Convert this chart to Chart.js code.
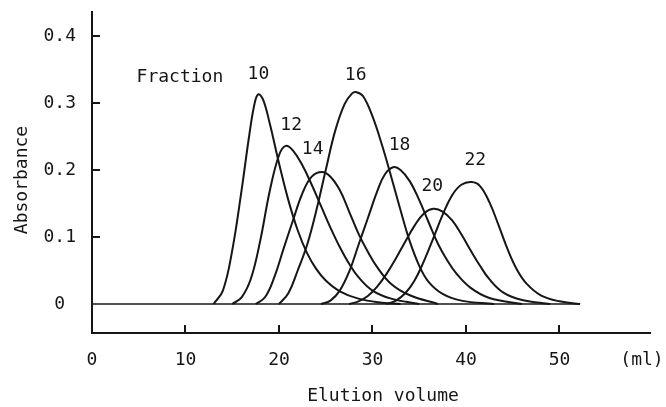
<!DOCTYPE html>
<html>
<head>
<meta charset="utf-8">
<script src="https://cdn.jsdelivr.net/npm/chart.js@4.4.1/dist/chart.umd.min.js"></script>
<style>
html, body { margin: 0; padding: 0; background: #fff; }
</style>
</head>
<body>
<canvas id="elutionChart" width="666" height="407"></canvas>
<script>
// Elution profiles of gel fractions (volume in ml, absorbance)
const volume10 = [13, 14, 15, 16, 16.8, 17.4, 17.8, 18.3, 19, 20, 21, 22, 23, 24, 25, 26.5, 28.5, 31, 33];
const abs10    = [0, 0.02, 0.08, 0.17, 0.25, 0.3, 0.313, 0.305, 0.27, 0.21, 0.155, 0.11, 0.076, 0.052, 0.035, 0.019, 0.008, 0.002, 0];

const volume12 = [15, 16, 17, 18, 19, 20, 20.7, 21.5, 22.5, 23.5, 24.5, 25.5, 26.5, 27.5, 28.5, 30, 32, 35];
const abs12    = [0, 0.01, 0.038, 0.095, 0.168, 0.222, 0.236, 0.229, 0.207, 0.178, 0.146, 0.114, 0.085, 0.06, 0.04, 0.02, 0.008, 0];

const volume14 = [17.5, 18.5, 19.5, 20.5, 21.5, 22.5, 23.5, 24.6, 25.5, 26.5, 27.5, 28.5, 29.5, 30.5, 32, 34, 37];
const abs14    = [0, 0.01, 0.04, 0.083, 0.125, 0.165, 0.19, 0.197, 0.19, 0.17, 0.138, 0.105, 0.078, 0.055, 0.03, 0.013, 0];

const volume16 = [20, 21, 22, 23, 24, 25, 26, 27, 27.8, 28.3, 29, 30, 31, 32, 33, 34, 35, 36, 37.5, 39.5, 43];
const abs16    = [0, 0.016, 0.05, 0.088, 0.14, 0.2, 0.258, 0.298, 0.314, 0.316, 0.31, 0.28, 0.238, 0.19, 0.14, 0.093, 0.057, 0.033, 0.015, 0.005, 0];

const volume18 = [24.5, 25.5, 26.5, 27.5, 28.5, 29.5, 30.5, 31.3, 32.2, 33, 34, 35, 36, 37, 38, 39, 40.5, 42.5, 46];
const abs18    = [0, 0.005, 0.02, 0.048, 0.088, 0.128, 0.168, 0.193, 0.204, 0.2, 0.183, 0.155, 0.122, 0.09, 0.065, 0.045, 0.024, 0.009, 0];

const volume20 = [27.5, 28.5, 29.5, 30.5, 31.5, 32.5, 33.5, 34.5, 35.5, 36.5, 37.5, 38.5, 39.5, 40.5, 41.5, 42.5, 44, 46, 49];
const abs20    = [0, 0.004, 0.012, 0.026, 0.045, 0.068, 0.093, 0.117, 0.135, 0.142, 0.138, 0.125, 0.104, 0.08, 0.057, 0.037, 0.017, 0.006, 0];

const volume22 = [31.5, 32.5, 33.5, 34.5, 35.5, 36.5, 37.5, 38.5, 39.5, 40.6, 41.5, 42.5, 43.5, 44.5, 45.5, 46.5, 48, 50, 52.2];
const abs22    = [0, 0.005, 0.016, 0.035, 0.064, 0.098, 0.133, 0.162, 0.178, 0.182, 0.176, 0.152, 0.117, 0.08, 0.05, 0.03, 0.013, 0.004, 0];

const baselineVolume = [0, 52.2];
const baselineAbs    = [0, 0];

const fractions = ['10', '12', '14', '16', '18', '20', '22'];
const xTicks = [0, 10, 20, 30, 40, 50];
const yTicks = [0, 0.1, 0.2, 0.3, 0.4];

// where each fraction number sits, in data units
const labelVolume = [17.8, 21.3, 23.6, 28.2, 32.9, 36.4, 41.0];
const labelAbs    = [0.343, 0.267, 0.231, 0.342, 0.237, 0.175, 0.215];

const ink = '#161616';
const fontFamily = '"DejaVu Sans Mono", monospace';

function toPoints(xs, ys) {
    return xs.map((v, i) => ({ x: v, y: ys[i] }));
}

const curves = [
    [volume10, abs10], [volume12, abs12], [volume14, abs14], [volume16, abs16],
    [volume18, abs18], [volume20, abs20], [volume22, abs22]
];

const datasets = curves.map((c, i) => ({
    label: 'Fraction ' + fractions[i],
    data: toPoints(c[0], c[1]),
    borderColor: ink,
    borderWidth: 2,
    pointRadius: 0,
    tension: 0.4,
    fill: false
}));
datasets.push({
    label: 'baseline',
    data: toPoints(baselineVolume, baselineAbs),
    borderColor: ink,
    borderWidth: 1.7,
    pointRadius: 0,
    fill: false
});

// inward tick marks, axis captions and fraction numbers
const axisDecor = {
    id: 'axisDecor',
    afterDraw(chart) {
        const { ctx, scales: { x, y } } = chart;
        ctx.save();
        ctx.strokeStyle = ink;
        ctx.lineWidth = 2;
        xTicks.forEach(v => {
            if (v === 0) return;
            const px = Math.round(x.getPixelForValue(v));
            ctx.beginPath();
            ctx.moveTo(px, y.bottom);
            ctx.lineTo(px, y.bottom - 8);
            ctx.stroke();
        });
        yTicks.forEach(v => {
            if (v === 0) return;
            const py = Math.round(y.getPixelForValue(v));
            ctx.beginPath();
            ctx.moveTo(x.left, py);
            ctx.lineTo(x.left + 8, py);
            ctx.stroke();
        });

        ctx.fillStyle = ink;
        ctx.font = '18px ' + fontFamily;
        ctx.textAlign = 'center';
        ctx.textBaseline = 'middle';
        ctx.fillText('(ml)', x.right - 8, 360);
        ctx.fillText('Elution volume', 383, 396);
        ctx.fillText('Fraction', x.getPixelForValue(9.4), y.getPixelForValue(0.339));
        fractions.forEach((f, i) => {
            ctx.fillText(f, x.getPixelForValue(labelVolume[i]), y.getPixelForValue(labelAbs[i]));
        });

        ctx.translate(22, 180);
        ctx.rotate(-Math.PI / 2);
        ctx.fillText('Absorbance', 0, 0);
        ctx.restore();
    }
};

const ctx = document.getElementById('elutionChart').getContext('2d');
new Chart(ctx, {
    type: 'line',
    data: { datasets: datasets },
    options: {
        responsive: false,
        animation: false,
        layout: { padding: { top: 12, right: 16, left: 0, bottom: 0 } },
        plugins: {
            legend: { display: false },
            tooltip: { enabled: false }
        },
        scales: {
            x: {
                type: 'linear',
                min: 0,
                max: 59.68,
                afterFit: s => {
                    s.height = 74;
                    s.paddingLeft = 0;
                    s.paddingRight = 0;
                },
                afterBuildTicks: s => { s.ticks = xTicks.map(v => ({ value: v })); },
                grid: { display: false, drawTicks: false },
                border: { display: true, color: ink, width: 2 },
                ticks: {
                    color: ink,
                    font: { family: fontFamily, size: 18 },
                    padding: 17,
                    maxRotation: 0,
                    autoSkip: false
                }
            },
            y: {
                type: 'linear',
                min: -0.0433,
                max: 0.4358,
                afterFit: s => {
                    s.width = 92;
                    s.paddingTop = 0;
                    s.paddingBottom = 0;
                },
                afterBuildTicks: s => { s.ticks = yTicks.map(v => ({ value: v })); },
                grid: { display: false, drawTicks: false },
                border: { display: true, color: ink, width: 2 },
                ticks: {
                    color: ink,
                    font: { family: fontFamily, size: 18 },
                    padding: 16,
                    crossAlign: 'center',
                    callback: v => v === 0 ? '0' : v.toFixed(1)
                }
            }
        }
    },
    plugins: [axisDecor]
});
</script>
</body>
</html>
